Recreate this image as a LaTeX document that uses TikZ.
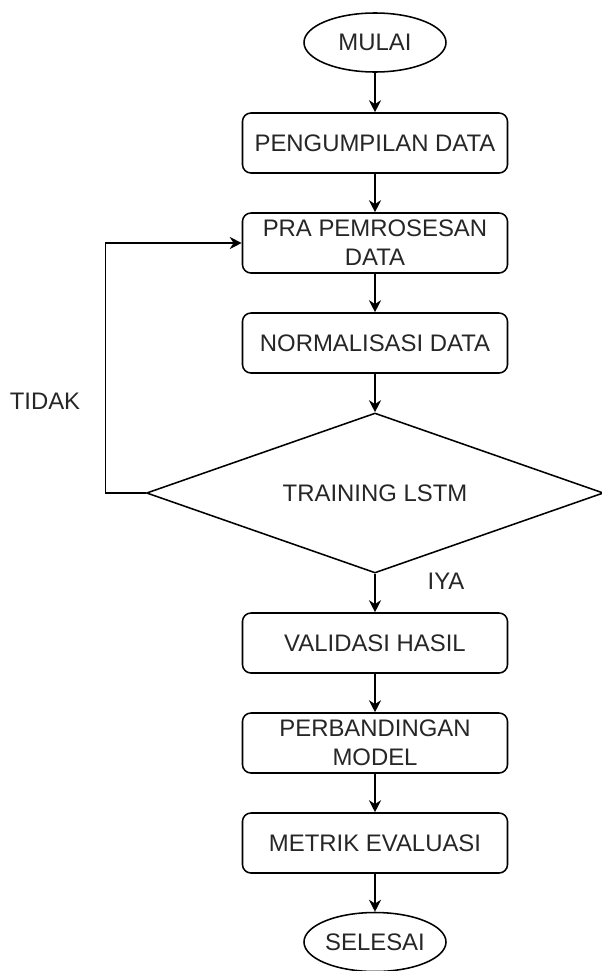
\documentclass[tikz,border=0pt]{standalone}
\usepackage{fontspec}
\setmainfont{Liberation Sans}
\usetikzlibrary{arrows.meta,positioning,shapes.geometric}
\tikzset{block/.style={draw=black,line width=1.1pt,rounded corners=6pt,align=center,minimum width=6.625cm,minimum height=1.5cm,inner sep=0pt,font=\fontsize{17}{20.6}\selectfont,text=black!85},
terminal/.style={ellipse,draw=black,line width=1.1pt,minimum width=3.55cm,minimum height=1.475cm,inner sep=0pt,font=\fontsize{17}{20.6}\selectfont,text=black!85},
decision/.style={diamond,aspect=2.86,draw=black,line width=1.1pt,minimum width=11.425cm,minimum height=4cm,inner sep=0pt,font=\fontsize{17}{20.6}\selectfont,text=black!85},
edge/.style={-{Stealth[length=3mm,width=3mm]},line width=1.1pt,draw=black},
tag/.style={font=\fontsize{17}{20.6}\selectfont,text=black!85}}
\begin{document}
\begin{tikzpicture}
\useasboundingbox (-9.375,0) rectangle (5.65,-24.275);
\node[terminal] (start) at (0,-1.0625) {MULAI};
\node[block] (collect) at (0,-3.575) {PENGUMPILAN DATA};
\node[block] (prep) at (0,-6.075) {PRA PEMROSESAN\\DATA};
\node[block] (norm) at (0,-8.575) {NORMALISASI DATA};
\node[decision] (train) at (0,-12.325) {TRAINING LSTM};
\node[block] (valid) at (0,-16.075) {VALIDASI HASIL};
\node[block] (compare) at (0,-18.575) {PERBANDINGAN\\MODEL};
\node[block] (metric) at (0,-21.075) {METRIK EVALUASI};
\node[terminal] (finish) at (0,-23.55) {SELESAI};
\node[tag] (no) at (-8.25,-10.025) {TIDAK};
\node[tag] (yes) at (1.775,-14.525) {IYA};
\draw[edge] (start)--(collect);
\draw[edge] (collect)--(prep);
\draw[edge] (prep)--(norm);
\draw[edge] (norm)--(train);
\draw[edge] (train.west)--++(-1,0)|-(prep.west);
\draw[edge] (train)--(valid);
\draw[edge] (valid)--(compare);
\draw[edge] (compare)--(metric);
\draw[edge] (metric)--(finish);
\end{tikzpicture}
\end{document}
